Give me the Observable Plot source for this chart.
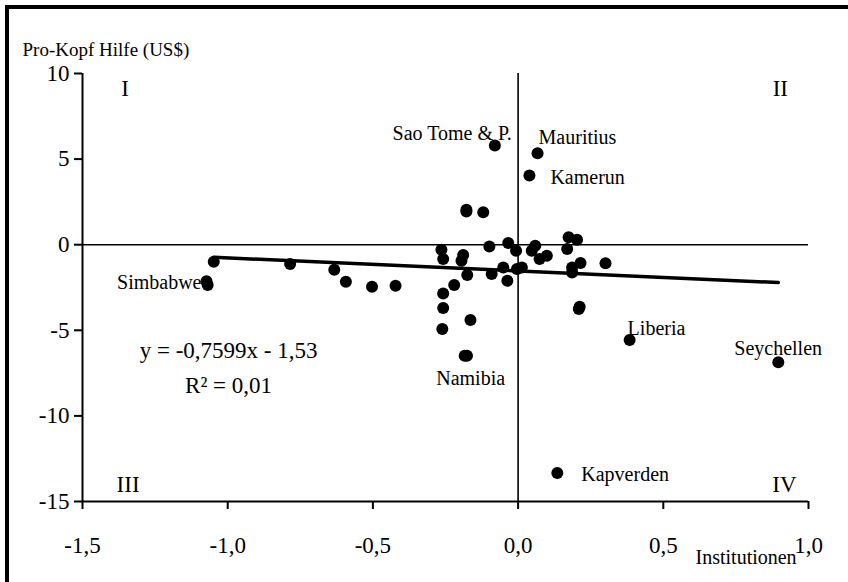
<!DOCTYPE html>
<html><head><meta charset="utf-8">
<script src="https://cdn.jsdelivr.net/npm/d3@7"></script>
<script src="https://cdn.jsdelivr.net/npm/@observablehq/plot@0.6"></script>
<style>
body{margin:0;background:#fff;}
#frame{position:absolute;left:5px;top:5px;width:900px;height:700px;border-left:4px solid #000;border-top:4px solid #000;}
#chart{position:absolute;left:0;top:0;}
</style></head><body>
<div id="frame"></div><div id="chart"></div>
<script>
// Institutionen (x) and Pro-Kopf Hilfe in US$ (y)
const institutionen = [-1.048,-1.073,-1.069,-0.785,-0.633,-0.593,-0.503,-0.422,-0.264,-0.258,
  -0.189,-0.195,-0.175,-0.099,-0.034,-0.007,0.059,0.047,0.074,0.099,
  0.174,0.203,0.169,0.186,0.215,0.186,0.301,-0.220,-0.091,-0.051,
  -0.037,-0.004,0.013,-0.258,-0.258,-0.164,-0.261,0.209,0.212,-0.178,
  -0.178,-0.120,-0.080,0.067,0.039,0.384,0.896,-0.184,-0.176,0.135];
const hilfe = [-0.99,-2.14,-2.36,-1.13,-1.46,-2.16,-2.46,-2.40,-0.29,-0.84,
  -0.60,-0.94,-1.77,-0.10,0.10,-0.35,-0.06,-0.35,-0.84,-0.64,
  0.43,0.29,-0.25,-1.33,-1.07,-1.62,-1.09,-2.35,-1.71,-1.33,
  -2.11,-1.42,-1.33,-2.85,-3.70,-4.40,-4.93,-3.76,-3.62,2.04,
  1.94,1.89,5.79,5.34,4.04,-5.56,-6.86,-6.49,-6.49,-13.33];
const laender = ["","Simbabwe","","","","","","","","",
  "","","","","","","","","","",
  "","","","","","","","","","",
  "","","","","","","","","","",
  "","","Sao Tome & P.","Mauritius","Kamerun","Liberia","Seychellen","Namibia","","Kapverden"];
const xTicks = [-1.5,-1.0,-0.5,0.0,0.5,1.0];
const yTicks = [-15,-10,-5,0,5,10];
const quadrantLabels = ["I","II","III","IV"];
const quadrantX = [-1.353,0.903,-1.343,0.917];
const quadrantY = [9.12,9.12,-14.04,-14.04];
const slope = -0.7599, intercept = -1.53;
const equationText = "y = -0,7599x - 1,53";
const r2Text = "R² = 0,01";
const yTitle = "Pro-Kopf Hilfe (US$)";
const xTitle = "Institutionen";

const points = institutionen.map((x,i)=>({x, y:hilfe[i], name:laender[i]}));
const ext = [institutionen[0], d3.max(institutionen)];
const regLine = ext.map(x=>({x, y: slope*x + intercept}));
const quads = quadrantLabels.map((t,i)=>({t, x:quadrantX[i], y:quadrantY[i]}));

const labelOffsets = {
  "Simbabwe":[-5,1,"end"],
  "Sao Tome & P.":[17,-12,"end"],
  "Mauritius":[1,-16,"start"],
  "Kamerun":[21,2,"start"],
  "Liberia":[-2,-11,"start"],
  "Seychellen":[-44,-14,"start"],
  "Namibia":[6,23,"middle"],
  "Kapverden":[24,2,"start"]
};
const font = "'Liberation Serif', 'Times New Roman', serif";
const fmtX = d => d.toFixed(1).replace(".", ",");

const plot = Plot.plot({
  width: 848, height: 582,
  marginLeft: 82, marginRight: 40, marginTop: 73, marginBottom: 81,
  style: {fontFamily: font, fontSize: "22px", background: "transparent", color: "#000"},
  x: {domain: [-1.5, 1.0]},
  y: {domain: [-15, 10]},
  marks: [
    Plot.ruleY([0], {x1: -1.5, x2: 1.0, stroke: "#000", strokeWidth: 1.6}),
    Plot.ruleX([0], {y1: -15, y2: 10, stroke: "#000", strokeWidth: 1.6}),
    Plot.axisX({ticks: xTicks, tickFormat: fmtX, tickSize: 8, tickPadding: 27, strokeWidth: 2, fontSize: 23, label: null}),
    Plot.axisY({ticks: yTicks, tickFormat: d => String(d), tickSize: 8, tickPadding: 5, strokeWidth: 2, fontSize: 23, label: null}),
    Plot.ruleY([-15], {x1: -1.5, x2: 1.0, stroke: "#000", strokeWidth: 2}),
    Plot.ruleX([-1.5], {y1: -15, y2: 10, stroke: "#000", strokeWidth: 2}),
    Plot.line(regLine, {x: "x", y: "y", stroke: "#000", strokeWidth: 3.5}),
    Plot.dot(points, {x: "x", y: "y", r: 6, fill: "#000", stroke: "none"}),
    ...Object.entries(labelOffsets).map(([name,[dx,dy,anchor]]) =>
      Plot.text(points.filter(d => d.name === name), {x: "x", y: "y", text: "name", dx, dy, textAnchor: anchor, fontSize: 20, fill: "#000"})),
    Plot.text(quads, {x: "x", y: "y", text: "t", fontSize: 23, fill: "#000"}),
    Plot.text([equationText], {x: -0.997, y: -6.2, fontSize: 23, fill: "#000"}),
    Plot.text([r2Text], {x: -0.997, y: -8.25, fontSize: 23, fill: "#000"}),
    Plot.text([yTitle], {frameAnchor: "top-left", dx: -60, dy: -31, textAnchor: "start", fontSize: 19, fill: "#000"}),
    Plot.text([xTitle], {x: 0.785, y: -18.25, fontSize: 20, fill: "#000"})
  ]
});
plot.querySelectorAll("g, text").forEach(el => {
  el.removeAttribute("font-family");
  el.removeAttribute("font-variant");
  el.style.fontFamily = font;
  el.style.fontVariant = "normal";
});
document.getElementById("chart").appendChild(plot);
</script>
</body></html>
